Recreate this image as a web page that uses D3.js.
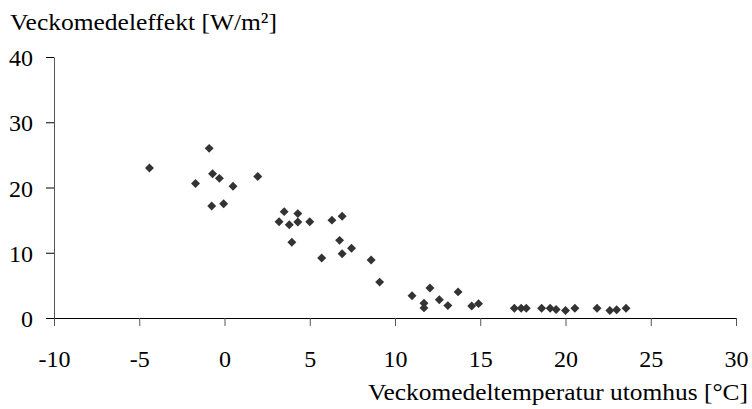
<!DOCTYPE html>
<html>
<head>
<meta charset="utf-8">
<script src="https://cdn.jsdelivr.net/npm/d3@7"></script>
<style>
  body { margin: 0; background: #fff; }
  svg { display: block; }
  svg text { font-family: "Liberation Serif", "Tinos", "Times New Roman", Times, "Noto Serif", "DejaVu Serif", serif !important; }
</style>
</head>
<body>
<div id="my-chart"></div>
<script>
// weekly mean outdoor temperature [°C]
const temps = [-4.4, -0.9, -1.7, -0.7, -0.3, 0.5, 1.95, -0.75, -0.05,
  3.5, 3.2, 3.8, 3.95, 4.3, 4.3, 5.0, 6.3, 6.9, 5.7, 6.75, 6.9, 7.45, 8.6, 9.1,
  11.0, 12.05, 11.7, 11.7, 12.6, 13.1, 13.7, 14.5, 14.9,
  17.0, 17.4, 17.7, 18.6, 19.1, 19.45, 20.0, 20.55, 21.85, 22.6, 23.0, 23.55];
// weekly mean power [W/m²]
const power = [23.0, 26.0, 20.6, 22.1, 21.4, 20.2, 21.7, 17.15, 17.5,
  16.3, 14.75, 14.3, 11.6, 16.0, 14.7, 14.75, 15.0, 15.6, 9.2, 11.9, 9.85, 10.7, 8.9, 5.5,
  3.4, 4.6, 2.25, 1.55, 2.8, 1.9, 4.0, 1.85, 2.2,
  1.5, 1.5, 1.5, 1.5, 1.5, 1.3, 1.15, 1.5, 1.5, 1.15, 1.25, 1.5];

const xTicks = [-10, -5, 0, 5, 10, 15, 20, 25, 30];
const yTicks = [0, 10, 20, 30, 40];

const width = 752, height = 409;
const marginLeft = 54, marginRight = 16, marginTop = 57, marginBottom = 91;
const fontSize = 24;
const serif = "'Liberation Serif', 'DejaVu Serif', serif";

const data = temps.map((t, i) => ({x: t, y: power[i]}));

const xScale = d3.scaleLinear([-10, 30], [marginLeft, width - marginRight]);
const yScale = d3.scaleLinear([0, 40], [height - marginBottom, marginTop]);

const svg = d3.select("#my-chart").append("svg")
    .attr("width", width)
    .attr("height", height)
    .attr("viewBox", [0, 0, width, height]);

// x-axis (plain hyphen for negatives, like the original)
svg.append("g")
    .attr("transform", `translate(0,${yScale(0)})`)
    .call(d3.axisBottom(xScale).tickValues(xTicks).tickFormat(d => String(d)).tickSize(8).tickSizeOuter(0))
    .attr("font-family", serif)
    .call(g => g.select(".domain").attr("stroke", "#000"))
    .call(g => g.selectAll(".tick line").attr("stroke", "#555"))
    .call(g => g.selectAll(".tick text")
        .attr("y", 49)
        .attr("dy", null)
        .attr("font-size", fontSize)
        .attr("fill", "#000"))
    .call(g => g.append("text")
        .attr("x", 368)
        .attr("y", 400 - yScale(0))
        .attr("fill", "#000")
        .attr("font-size", fontSize)
        .attr("text-anchor", "start")
        .attr("textLength", 380)
        .attr("lengthAdjust", "spacingAndGlyphs")
        .text("Veckomedeltemperatur utomhus [°C]"));

// y-axis
svg.append("g")
    .attr("transform", `translate(${marginLeft},0)`)
    .call(d3.axisLeft(yScale).tickValues(yTicks).tickSize(8).tickSizeOuter(0).tickPadding(13))
    .attr("font-family", serif)
    .call(g => g.select(".domain").attr("stroke", "#555"))
    .call(g => g.selectAll(".tick line").attr("stroke", "#000"))
    .call(g => g.selectAll(".tick text")
        .attr("dy", "0.36em")
        .attr("font-size", fontSize)
        .attr("fill", "#000"))
    .call(g => g.append("text")
        .attr("x", 10 - marginLeft)
        .attr("y", 30)
        .attr("fill", "#000")
        .attr("font-size", fontSize)
        .attr("text-anchor", "start")
        .attr("textLength", 267)
        .attr("lengthAdjust", "spacingAndGlyphs")
        .text("Veckomedeleffekt [W/m²]"));

// points: rotated squares (diamonds)
const diamond = d3.symbol(d3.symbolSquare, 40);
svg.append("g")
    .attr("fill", "#333")
  .selectAll("path")
  .data(data)
  .join("path")
    .attr("d", diamond)
    .attr("transform", d => `translate(${xScale(d.x)},${yScale(d.y)}) rotate(45)`);
</script>
</body>
</html>
